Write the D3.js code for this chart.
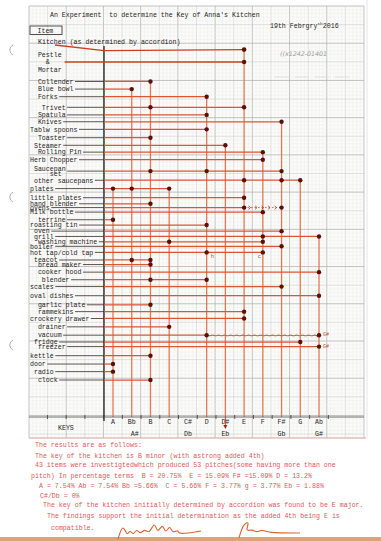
<!DOCTYPE html>
<html><head><meta charset="utf-8">
<script src="https://cdn.jsdelivr.net/npm/d3@7"></script>
<style>html,body{margin:0;padding:0;background:#fff;} svg{display:block;} text{white-space:pre;}</style>
</head><body>
<script>
// ---------------- DATA ----------------
const keys    = ["A","Bb","B","C","C#","D","D#","E","F","F#","G","Ab"];
const altKeys = ["","A#","","","Db","","Eb","","","Gb","","G#"];

const kitchenLabel = "Kitchen (as determined by accordion)";
const kitchenRow = 1.0;
const kitchenKey = "E";

const items = [
  "  Pestle\n    &\n  Mortar","  Collender","  Blue bowl","  Forks","   Trivet","  Spatula","  Knives",
  "Tablw spoons","  Toaster"," Steamer","  Rolling Pin","Herb Chopper"," Saucepan\n     set",
  " other saucepans","plates","little plates","hand blender","ovens","Milk bottle","  terrine",
  "roasting tin"," oven"," grill","  washing machine","boiler","hot tap/cold tap"," teacot",
  "  bread maker","  cooker hood","   blender","scales","oval dishes","  garlic plate",
  "  rammekins","crockery drawer","  drainer","  vacuum"," fridge","  freezer","kettle","door",
  " radio","  clock"
];
// typed line on which each item sits (1 line = one typewriter line, Kitchen = 0)
const rows = [
  2.63,5.2,6.2,7.2,8.6,9.6,10.5,
  11.5,12.6,13.6,14.5,15.5,17.0,
  18.2,19.3,20.5,21.3,21.8,22.4,23.4,
  24.1,24.9,25.6,26.3,26.9,27.7,28.7,
  29.3,30.3,31.3,32.2,33.4,34.6,
  35.5,36.4,37.5,38.6,39.5,40.1,41.3,42.4,
  43.4,44.5
];
const pitches = [
  ["E"],["B"],["Bb"],["D"],["B","E"],["D"],["F#"],
  ["D"],["B"],["D#"],["F"],["F"],["B","D","F#"],
  ["E","F#","G"],["A","Bb","C"],["E"],["B"],["E","F#"],["F"],["A"],
  ["D"],["F#"],["F","Ab"],["C","F"],["F#"],["D","F"],["Bb","B"],
  ["B"],["Ab"],["B","D"],["F#"],["Ab"],["B"],
  ["E"],["E"],["C"],["D","Ab"],["G"],["Ab"],["B"],["A"],
  ["A"],["B"]
];

const title = "An Experiment  to determine the Key of Anna's Kitchen";
const dateText = ["19th Febrgry","th","2016"];
const pencilNote = "((x1242-01401";
const summary = [
  "The results are as follows:",
  "The key of the kitchen is B minor (with astrong added 4th)",
  "43 items were investigtedwhich produced 53 pitches(some having more than one",
  "pitch) In percentage terms  B = 20.75%  E = 15.09% F# =15.09% D = 13.2%",
  "A = 7.54% Ab = 7.54% Bb =5.66%  C = 5.66% F = 3.77% g = 3.77% Eb = 1.88%",
  "C#/Db = 0%",
  "The key of the kitchen initially determined by accordion was found to be E major.",
  "The findings support the initial determination as the added 4th being E is",
  "compatible."
];

// ---------------- LAYOUT ----------------
const W = 381, H = 541;
const mono = "'Liberation Mono','DejaVu Sans Mono',monospace";
const FS = 6.6;
const ink = "#2a2522";
const orange = "#dc5630";
const dotCol = "#56120a";
const red = "#dc5858";

const svg = d3.select("body").append("svg").attr("width", W).attr("height", H);

// paper + grid
const gx0 = 29, gx1 = 364, gy0 = 6, gy1 = 438;
const big = (gx1 - gx0) / 9, minor = big / 10;
svg.append("rect").attr("x", gx0).attr("y", gy0).attr("width", gx1 - gx0).attr("height", gy1 - gy0).attr("fill", "#fbfbfa");
const grid = svg.append("g");
d3.range(0, 91).forEach(i => {
  const x = gx0 + i * minor;
  grid.append("line").attr("x1", x).attr("x2", x).attr("y1", gy0).attr("y2", gy1)
    .attr("stroke", i % 10 === 0 ? "#b4b4b4" : i % 5 === 0 ? "#cfcfcf" : "#eaeaea")
    .attr("stroke-width", i % 10 === 0 ? 0.8 : i % 5 === 0 ? 0.6 : 0.4);
});
d3.range(0, Math.floor((gy1 - gy0) / minor) + 1).forEach(j => {
  const y = gy0 + j * minor;
  grid.append("line").attr("x1", gx0).attr("x2", gx1).attr("y1", y).attr("y2", y)
    .attr("stroke", j % 10 === 0 ? "#b4b4b4" : j % 5 === 0 ? "#cfcfcf" : "#eaeaea")
    .attr("stroke-width", j % 10 === 0 ? 0.8 : j % 5 === 0 ? 0.6 : 0.4);
});
svg.append("line").attr("x1", gx0).attr("x2", gx1 + 2).attr("y1", gy1).attr("y2", gy1).attr("stroke", "#d9a595").attr("stroke-width", 1);
svg.append("line").attr("x1", gx1 + 3).attr("x2", gx1 + 3).attr("y1", 0).attr("y2", gy1).attr("stroke", "#e6e6e6").attr("stroke-width", 1);
svg.append("rect").attr("x", 0).attr("y", 537).attr("width", W).attr("height", 4).attr("fill", "#d9a47e");

// punch holes
[50, 197, 345].forEach(cy => {
  svg.append("path").attr("d", `M13,${cy - 5} A5.5,5.5 0 0 0 13,${cy + 5}`)
    .attr("fill", "none").attr("stroke", "#a8a8a8").attr("stroke-width", 0.9);
});

// scales
const yS = d3.scaleLinear().domain([0, 44.5]).range([42, 380]);
const xS = d3.scalePoint().domain(keys).range([113, 319]);
const axisY = 417, leftAxisX = 104, lineGap = 7.6;

// title etc.
const T = (x, y, s, col = ink, size = FS) => svg.append("text").attr("x", x).attr("y", y)
  .attr("font-family", mono).attr("font-size", size).attr("fill", col).text(s);
T(50, 16.5, title);
const dt = svg.append("text").attr("x", 270).attr("y", 27.5).attr("font-family", mono).attr("font-size", FS).attr("fill", ink);
dt.append("tspan").text(dateText[0]);
dt.append("tspan").attr("dy", -2.4).attr("font-size", 4.4).text(dateText[1]);
dt.append("tspan").attr("dy", 2.4).text(dateText[2]);
svg.append("rect").attr("x", 30).attr("y", 26).attr("width", 32).attr("height", 8.5).attr("fill", "none").attr("stroke", ink).attr("stroke-width", 0.8);
T(37.5, 32.6, "Item");
T(280, 55.5, pencilNote, "#9a9a9a", 6).attr("font-style", "italic").attr("font-family", "'DejaVu Sans',sans-serif").attr("font-size", 6.3);
svg.append("line").attr("x1", 275).attr("x2", 350).attr("y1", 77).attr("y2", 77).attr("stroke", "#dadada").attr("stroke-width", 0.8).attr("stroke-dasharray", "14,6");

// vertical key lines
const topOf = {};
topOf[kitchenKey] = yS(kitchenRow);
pitches.forEach((ps, i) => ps.forEach(p => {
  const y = yS(rows[i]);
  topOf[p] = topOf[p] === undefined ? y : Math.min(topOf[p], y);
}));
const vg = svg.append("g");
keys.forEach(k => {
  if (topOf[k] === undefined) return;
  vg.append("line").attr("x1", xS(k)).attr("x2", xS(k)).attr("y1", topOf[k]).attr("y2", axisY)
    .attr("stroke", "#e2704a").attr("stroke-width", 1.3).attr("opacity", 0.92);
});

// left black axis
svg.append("line").attr("x1", leftAxisX).attr("x2", leftAxisX).attr("y1", 46).attr("y2", 421)
  .attr("stroke", "#1e1e1e").attr("stroke-width", 1.3);

// bottom axis
svg.append("line").attr("x1", gx0).attr("x2", gx1).attr("y1", axisY).attr("y2", axisY).attr("stroke", "#4a4a4a").attr("stroke-width", 0.8);
const step = xS.step();
d3.range(-4, 13).forEach(i => {
  const x = xS(keys[0]) + (i - 0.5) * step;
  if (x < gx0 + 2 || x > gx1 - 2) return;
  svg.append("line").attr("x1", x).attr("x2", x).attr("y1", axisY - 2).attr("y2", axisY + 2).attr("stroke", "#3a3a3a").attr("stroke-width", 0.8);
});
keys.forEach((k, i) => {
  T(xS(k), 424, k).attr("text-anchor", "middle");
  if (altKeys[i]) T(xS(k) + (i === 1 ? 3 : 0), 435.5, altKeys[i]).attr("text-anchor", "middle");
});
T(58, 429.5, "KEYS");
// Eb arrow
svg.append("line").attr("x1", xS("D#")).attr("x2", xS("D#")).attr("y1", axisY).attr("y2", 427).attr("stroke", "#c8401e").attr("stroke-width", 1);
svg.append("path").attr("d", `M${xS("D#") - 2},425 L${xS("D#")},429 L${xS("D#") + 2},425 Z`).attr("fill", "#9b2a10");

// Kitchen row
T(38, 44.3, kitchenLabel);
const kg = svg.append("g");
kg.append("path").attr("d", `M55,45 L${leftAxisX},${yS(kitchenRow) + 1} L${xS(kitchenKey)},${yS(kitchenRow)}`)
  .attr("fill", "none").attr("stroke", "#c9421f").attr("stroke-width", 1.3);
kg.append("circle").attr("cx", xS(kitchenKey)).attr("cy", yS(kitchenRow)).attr("r", 2.3).attr("fill", dotCol);

// items
const hg = svg.append("g"), dg = svg.append("g"), lg = svg.append("g");
items.forEach((lab, i) => {
  const lines = lab.split("\n");
  const n = lines.length;
  const y0 = yS(rows[i]);
  const gap = n === 2 ? lineGap * 0.7 : lineGap;
  let end = 0;
  lines.forEach((s, k) => {
    const t = lg.append("text").attr("x", 30).attr("y", y0 + (k - (n - 1) / 2) * gap + 2.3)
      .attr("font-family", mono).attr("font-size", FS).attr("fill", ink).text(s);
    end = Math.max(end, 30 + t.node().getComputedTextLength());
  });
  const xs = pitches[i].map(p => xS(p));
  const xMax = d3.max(xs), xMin = d3.min(xs);
  const name = lab.trim();
  if (i === 0) {
    hg.append("line").attr("x1", end + 3).attr("x2", xMax).attr("y1", y0).attr("y2", y0).attr("stroke", "#c9421f").attr("stroke-width", 1.3);
  } else {
    if (end < leftAxisX - 2)
      hg.append("line").attr("x1", end + 1.5).attr("x2", leftAxisX).attr("y1", y0).attr("y2", y0).attr("stroke", "#3b2a24").attr("stroke-width", 0.8);
    if (name === "ovens") {
      hg.append("line").attr("x1", leftAxisX).attr("x2", xMin).attr("y1", y0).attr("y2", y0).attr("stroke", orange).attr("stroke-width", 1.2);
      hg.append("line").attr("x1", xMin).attr("x2", xMax).attr("y1", y0).attr("y2", y0).attr("stroke", "#c4431f").attr("stroke-width", 0.8).attr("stroke-dasharray", "1.5,2");
      d3.range(xMin + 6, xMax - 2, 6.5).forEach(x => {
        hg.append("path").attr("d", `M${x - 1.5},${y0 - 1.8} L${x + 0.5},${y0} L${x - 1.5},${y0 + 1.8}`).attr("fill", "none").attr("stroke", "#b33a18").attr("stroke-width", 0.8);
      });
    } else if (name === "vacuum") {
      hg.append("line").attr("x1", leftAxisX).attr("x2", xMin).attr("y1", y0).attr("y2", y0).attr("stroke", orange).attr("stroke-width", 1.2);
      const pts = d3.range(xMin, xMax + 0.1, 3).map((x, j) => [x, y0 + (j % 2 ? 1.1 : -0.6)]);
      hg.append("path").attr("d", d3.line().curve(d3.curveBasis)(pts)).attr("fill", "none").attr("stroke", "#d4592f").attr("stroke-width", 1.1);
    } else {
      hg.append("line").attr("x1", leftAxisX).attr("x2", xMax).attr("y1", y0).attr("y2", y0).attr("stroke", orange).attr("stroke-width", 1.25);
    }
  }
  xs.forEach(x => dg.append("circle").attr("cx", x).attr("cy", y0).attr("r", 2.2).attr("fill", dotCol));
  // handwritten annotations
  if (name === "hot tap/cold tap") {
    T(xS("D") + 4, y0 + 6, "h", "#c0502a", 5.5);
    T(xS("F") - 5, y0 + 6, "c", "#c0502a", 5.5);
  }
  if (name === "vacuum" || name === "freezer") T(xS("Ab") + 4, y0 + 1, "G#", "#c0502a", 5);
});

// bottom summary text
const sx = [35, 35, 35, 31, 39, 40, 43, 47, 51];
const sy = [447, 458, 467, 478, 487.5, 498, 506.5, 518, 530];
summary.forEach((s, i) => T(sx[i], sy[i], s, red, FS));

// signatures
const sig = d3.line().curve(d3.curveBasis);
svg.append("path").attr("d", sig([[118,539],[123,523],[127,537],[130,529],[133,536],[137,528],[140,535],[145,528],[149,535],[155,520],[157,535],[163,522],[165,535],[170,524],[172,534],[179,529],[177,535],[201,531]]))
  .attr("fill", "none").attr("stroke", "#d9652f").attr("stroke-width", 1.1);
svg.append("path").attr("d", sig([[239,538],[243,524],[250,521],[245,532],[252,529],[257,533],[262,529],[267,533],[300,533]]))
  .attr("fill", "none").attr("stroke", "#d9652f").attr("stroke-width", 1.1);
</script>
</body></html>
